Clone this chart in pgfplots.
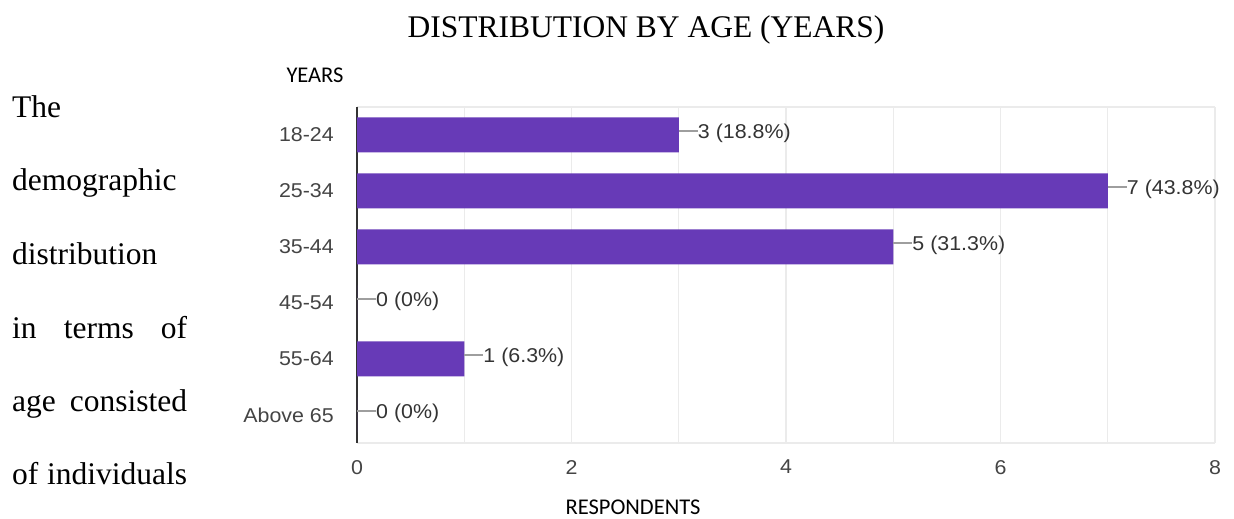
\documentclass[border=0pt]{standalone}
\usepackage{pgfplots}
\pgfplotsset{compat=1.18}
\usepackage{fontspec}
\setmainfont{Liberation Serif}
\newfontfamily\arialf{Liberation Sans}[FakeStretch=1.07]
\newfontfamily\calibrif{Carlito}
\definecolor{barpurple}{HTML}{673AB7}
\definecolor{gridgray}{HTML}{EBEBEB}
\definecolor{axisgray}{HTML}{333333}
\definecolor{leadgray}{HTML}{9E9E9E}
\definecolor{labgray}{HTML}{444444}
\definecolor{valgray}{HTML}{333333}
\newcommand\tbig{\fontsize{31.5bp}{36bp}\selectfont}
\newcommand\tickfont{\arialf\fontsize{20bp}{23bp}\selectfont}
\begin{document}
\begin{tikzpicture}[x=1bp,y=1bp]
\useasboundingbox (0,0) rectangle (1234,519);
\node[anchor=base, inner sep=0pt, font=\tbig] at (646,481) {DISTRIBUTION BY AGE (YEARS)};
\node[anchor=base west, inner sep=0pt, font=\tbig] at (12,401.7) {The};
\node[anchor=base west, inner sep=0pt, font=\tbig] at (12,328.3) {demographic};
\node[anchor=base west, inner sep=0pt, font=\tbig] at (12,254.7) {distribution};
\node[anchor=base west, inner sep=0pt, font=\tbig] at (12,180.7) {\makebox[175bp][s]{in terms of}};
\node[anchor=base west, inner sep=0pt, font=\tbig] at (12,107.3) {\makebox[175bp][s]{age consisted}};
\node[anchor=base west, inner sep=0pt, font=\tbig] at (12,34) {\makebox[175bp][s]{of individuals}};
\node[inner sep=0pt, font=\calibrif\fontsize{22.5bp}{26bp}\selectfont] at (315,443.5) {YEARS};
\node[inner sep=0pt, font=\calibrif\fontsize{22.5bp}{26bp}\selectfont] at (633,11.5) {RESPONDENTS};
\begin{axis}[
  at={(357bp,76bp)}, anchor=south west,
  scale only axis, width=858bp, height=336bp,
  xmin=0, xmax=8, ymin=-0.5, ymax=5.5, y dir=reverse,
  xtick={0,2,4,6,8}, minor xtick={1,3,5,7},
  ytick={0,1,2,3,4,5},
  yticklabels={18-24,25-34,35-44,45-54,55-64,Above 65},
  xmajorgrids, xminorgrids,
  major grid style={draw=gridgray, line width=1.2bp},
  minor grid style={draw=gridgray, line width=1.2bp},
  separate axis lines,
  x axis line style={draw=gridgray, line width=1.5bp},
  y axis line style={draw=none},
  major tick length=0pt, minor tick length=0pt,
  tick style={draw=none},
  /pgf/number format/assume math mode=true,
  xticklabel style={font=\tickfont, text=labgray, inner sep=0pt, yshift=-17bp},
  yticklabel style={font=\tickfont, text=labgray, inner sep=0pt, xshift=-23bp},
  extra x ticks={0}, extra x tick labels={},
  extra x tick style={xmajorgrids=true, major grid style={draw=axisgray, line width=1.8bp}},
  clip=false,
]
\addplot[xbar, bar width=35bp, fill=barpurple, draw=none,
  point meta=explicit symbolic,
  nodes near coords={\textcolor{leadgray}{\rule[\dimexpr0.358em-1bp\relax]{19bp}{2bp}}\pgfplotspointmeta},
  every node near coord/.append style={anchor=west, inner sep=0pt, font=\tickfont, text=valgray, text height=0.716em, text depth=0pt},
] coordinates {
  (3,0) [3 (18.8\%)]
  (7,1) [7 (43.8\%)]
  (5,2) [5 (31.3\%)]
  (0,3) [0 (0\%)]
  (1,4) [1 (6.3\%)]
  (0,5) [0 (0\%)]
};
\end{axis}
\end{tikzpicture}
\end{document}
